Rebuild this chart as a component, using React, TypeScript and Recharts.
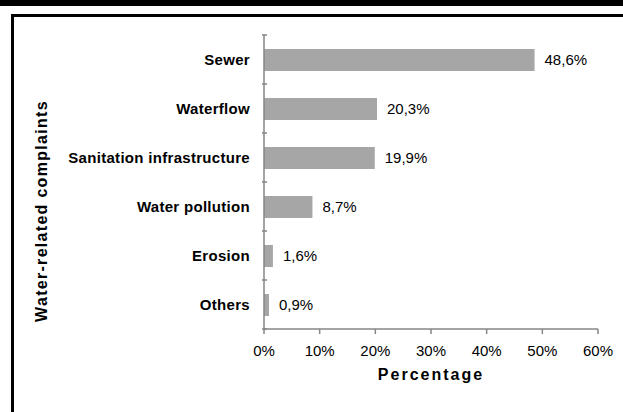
import React from 'react';
import { BarChart, Bar, XAxis, YAxis, LabelList } from 'recharts';

const complaints = ['Sewer', 'Waterflow', 'Sanitation infrastructure', 'Water pollution', 'Erosion', 'Others'];
const shares = [48.6, 20.3, 19.9, 8.7, 1.6, 0.9];
const percentTicks = [0, 10, 20, 30, 40, 50, 60];

const data = complaints.map((name, i) => ({ name, value: shares[i] }));

const FONT = '"Liberation Sans", Arial, sans-serif';
const AXIS_COLOR = '#868686';
const BAR_COLOR = '#a6a6a6';
const PLOT_TOP = 35;
const PLOT_BOTTOM = 329;
const BAND = (PLOT_BOTTOM - PLOT_TOP) / complaints.length;

const CategoryTick = (props: any) => {
  const { x, y, payload, index } = props;
  const axisX = x + 11;
  return (
    <g>
      <line x1={axisX - 5} x2={axisX} y1={y - BAND / 2} y2={y - BAND / 2} stroke={AXIS_COLOR} strokeWidth={1.5} />
      {index === complaints.length - 1 && (
        <line x1={axisX - 5} x2={axisX} y1={y + BAND / 2} y2={y + BAND / 2} stroke={AXIS_COLOR} strokeWidth={1.5} />
      )}
      <text x={x - 6} y={y} dy={5} textAnchor="end" fontFamily={FONT} fontSize={15} fontWeight="bold" letterSpacing={0.3} fill="#000">
        {payload.value}
      </text>
    </g>
  );
};

const YTitle = (props: any) => {
  const { viewBox } = props;
  const cx = viewBox.x + 41;
  const cy = viewBox.y + viewBox.height / 2 + 29;
  return (
    <text
      x={cx}
      y={cy}
      transform={`rotate(-90, ${cx}, ${cy})`}
      textAnchor="middle"
      dominantBaseline="central"
      fontFamily={FONT}
      fontSize={16}
      fontWeight="bold"
      letterSpacing={1.3}
      fill="#000"
    >
      Water-related complaints
    </text>
  );
};

const formatShare = (v: any) => `${Number(v).toFixed(1).replace('.', ',')}%`;

export default function App() {
  return (
    <div style={{ position: 'absolute', left: 0, top: 0, width: 623, height: 412, background: '#fff', overflow: 'hidden' }}>
      <div style={{ position: 'absolute', left: 0, top: 0, width: 623, height: 6, background: '#000' }} />
      <div style={{ position: 'absolute', left: 11, top: 14, width: 612, height: 3, background: '#000' }} />
      <div style={{ position: 'absolute', left: 11, top: 14, width: 3, height: 398, background: '#000' }} />
      <BarChart
        width={623}
        height={412}
        data={data}
        layout="vertical"
        margin={{ top: PLOT_TOP, right: 25, left: 0, bottom: 0 }}
        barSize={22}
        style={{ position: 'absolute', left: 0, top: 0 }}
      >
        <XAxis
          type="number"
          domain={[0, 60]}
          ticks={percentTicks}
          tickFormatter={(v) => `${v}%`}
          height={412 - PLOT_BOTTOM}
          stroke={AXIS_COLOR}
          strokeWidth={1.5}
          tickSize={5}
          tickMargin={11}
          tick={{ fill: '#000', fontSize: 15, fontFamily: FONT }}
          label={{ value: 'Percentage', position: 'insideBottom', offset: 32, fill: '#000', fontSize: 16, fontWeight: 'bold', letterSpacing: 2, fontFamily: FONT }}
        />
        <YAxis
          type="category"
          dataKey="name"
          width={264}
          stroke={AXIS_COLOR}
          strokeWidth={1.5}
          tickLine={false}
          tick={<CategoryTick />}
          interval={0}
          label={<YTitle />}
        />
        <Bar dataKey="value" fill={BAR_COLOR} isAnimationActive={false}>
          <LabelList dataKey="value" position="right" offset={10} formatter={formatShare} fill="#000" fontSize={15} fontFamily={FONT} />
        </Bar>
      </BarChart>
    </div>
  );
}
